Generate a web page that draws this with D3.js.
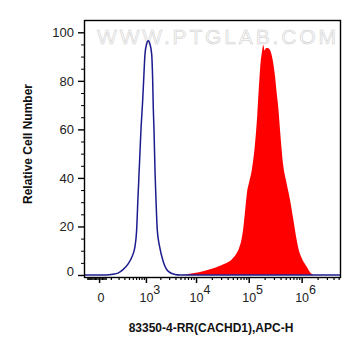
<!DOCTYPE html>
<html>
<head>
<meta charset="utf-8">
<title>CACHD1 flow histogram</title>
<script src="https://cdn.jsdelivr.net/npm/d3@7"></script>
<style>
    body { margin: 0; background: #fff; }
    text { font-family: Arial, "Liberation Sans", sans-serif; }
</style>
</head>
<body>
<svg id="svg" width="361" height="356"></svg>
<script>
    // control (blue outline) histogram: intensity, % of max
    var blueX = [-139, 50, 124, 191, 274, 377, 477, 564, 615, 664, 715, 777, 848, 890, 953, 1028, 1124,
        1221, 1326, 1392, 1432, 1482, 1560, 1630, 1733, 1921, 2294, 2887, 3914, 4898, 5.3e6];
    var blueY = [0, 0, 0.3, 0.8, 2.2, 4.5, 7.5, 11.7, 18, 32, 45, 60, 72, 80, 91, 95, 96.5,
        95, 91, 80, 69, 60, 42, 31, 18.5, 12, 5.5, 1.5, 0.2, 0, 0];

    // antibody stained (red filled) histogram
    var redX = [-139, 4898, 8740, 14820, 22980, 34050, 48270, 57470, 65520, 73650, 79660, 85070, 92790,
        101260, 113880, 131460, 145290, 158520, 168440, 178270, 188640, 200000, 212190, 234480, 252510,
        284040, 313860, 337950, 362250, 390090, 450240, 506360, 602490, 695450, 806370, 890850, 1001850,
        1245300, 1547600, 1710100, 5.3e6];
    var redY = [0, 0, 0.7, 1.8, 3, 4.5, 6.5, 8.5, 11, 15, 20, 26, 34,
        38, 43, 54, 66, 80, 88, 92, 94.8, 92.5, 93.5, 93.4, 92.7,
        88.6, 82, 75, 69, 60, 45, 39, 31, 23, 14.4, 10, 7,
        3.4, 0.4, 0, 0];

    var yTicks = [0, 20, 40, 60, 80, 100];
    var xMajor = [0, 1e3, 1e4, 1e5, 1e6];
    var xTickBase = ["0", "10", "10", "10", "10"];
    var xTickExp = ["", "3", "4", "5", "6"];

    var svg = d3.select("#svg");
    var plotL = 84, plotR = 340, plotT = 20, plotB = 277;

    var x = d3.scaleSymlog().constant(150).domain([-139, 5.3e6]).range([plotL, plotR]);
    var y = d3.scaleLinear().domain([0, 100]).range([275, 32.3]);

    // minor ticks: linear part around zero, then 2..9 per decade
    var xMinor = [];
    for (var v = -100; v <= 50; v += 10) xMinor.push(v);
    for (var k = 2; k <= 6; k++) {
        for (var m = (k == 2 ? 1 : 2); m <= 9; m++) {
            var t = m * Math.pow(10, k);
            if (t <= 5.3e6 && xMajor.indexOf(t) < 0) xMinor.push(t);
        }
    }
    var yMinor = d3.range(0, 101, 5).filter(function (d) { return d % 20 != 0; });

    // watermark
    svg.append("text")
        .attr("x", 97).attr("y", 44)
        .attr("textLength", 239).attr("lengthAdjust", "spacing")
        .style("font-size", "21px")
        .style("fill", "#f8f8f8")
        .style("stroke", "#cdcdcd")
        .style("stroke-width", 0.5)
        .text("WWW.PTGLAB.COM");

    var area = d3.area()
        .x(function (d, i) { return x(redX[i]); })
        .y0(y(0))
        .y1(function (d, i) { return y(redY[i]); })
        .curve(d3.curveMonotoneX);

    svg.append("path")
        .datum(redX)
        .attr("d", area)
        .attr("fill", "#ff0000");

    var line = d3.line()
        .x(function (d, i) { return x(blueX[i]); })
        .y(function (d, i) { return y(blueY[i]); })
        .curve(d3.curveMonotoneX);

    svg.append("path")
        .datum(blueX)
        .attr("d", line)
        .attr("fill", "none")
        .attr("stroke", "#1c1c8f")
        .attr("stroke-width", 1.5);

    // frame
    svg.append("rect")
        .attr("class", "frame")
        .attr("x", plotL + 0.5).attr("y", plotT + 0.5)
        .attr("width", plotR - plotL).attr("height", plotB - plotT)
        .attr("fill", "none")
        .attr("stroke", "#000")
        .attr("stroke-width", 1.4);

    // y axis
    var yMajorAxis = svg.append("g")
        .attr("transform", "translate(" + plotL + ",0)")
        .call(d3.axisLeft(y).tickValues(yTicks).tickSize(6).tickSizeOuter(0).tickPadding(4));
    yMajorAxis.select(".domain").remove();
    yMajorAxis.selectAll("line").attr("stroke-width", 1.4);
    yMajorAxis.selectAll("text")
        .style("font-size", "13px")
        .style("fill", "#222")
        .attr("y", function (d) { return d == 0 ? -4 : 0; });

    var yMinorAxis = svg.append("g")
        .attr("transform", "translate(" + plotL + ",0)")
        .call(d3.axisLeft(y).tickValues(yMinor).tickSize(3).tickFormat(""));
    yMinorAxis.select(".domain").remove();

    // x axis
    var xMinorAxis = svg.append("g")
        .attr("transform", "translate(0," + plotB + ")")
        .call(d3.axisBottom(x).tickValues(xMinor).tickSize(3).tickFormat(""));
    xMinorAxis.select(".domain").remove();
    xMinorAxis.selectAll("line").attr("stroke-width", 1.2);

    var xMajorAxis = svg.append("g")
        .attr("transform", "translate(0," + plotB + ")")
        .call(d3.axisBottom(x).tickValues(xMajor).tickSize(6).tickSizeOuter(0).tickFormat(""));
    xMajorAxis.select(".domain").remove();
    xMajorAxis.selectAll("line").attr("stroke-width", 1.5);

    xMajorAxis.selectAll(".tick").each(function (d, i) {
        var txt = d3.select(this).append("text")
            .attr("y", 25)
            .style("font-size", "12.5px")
            .style("fill", "#222");
        if (xTickExp[i] == "") {
            txt.attr("x", 1.5).attr("text-anchor", "middle").text(xTickBase[i]);
        } else {
            txt.attr("x", -7).attr("text-anchor", "start");
            txt.append("tspan").text(xTickBase[i]);
            txt.append("tspan").attr("dy", -8).text(xTickExp[i]);
        }
    });

    // titles
    svg.append("text")
        .attr("transform", "translate(32,144) rotate(-90)")
        .attr("text-anchor", "middle")
        .style("font-size", "12px")
        .style("font-weight", "bold")
        .style("fill", "#111")
        .text("Relative Cell Number");

    svg.append("text")
        .attr("x", 211).attr("y", 332)
        .attr("text-anchor", "middle")
        .style("font-size", "12px")
        .style("font-weight", "bold")
        .style("fill", "#111")
        .text("83350-4-RR(CACHD1),APC-H");
</script>
</body>
</html>
